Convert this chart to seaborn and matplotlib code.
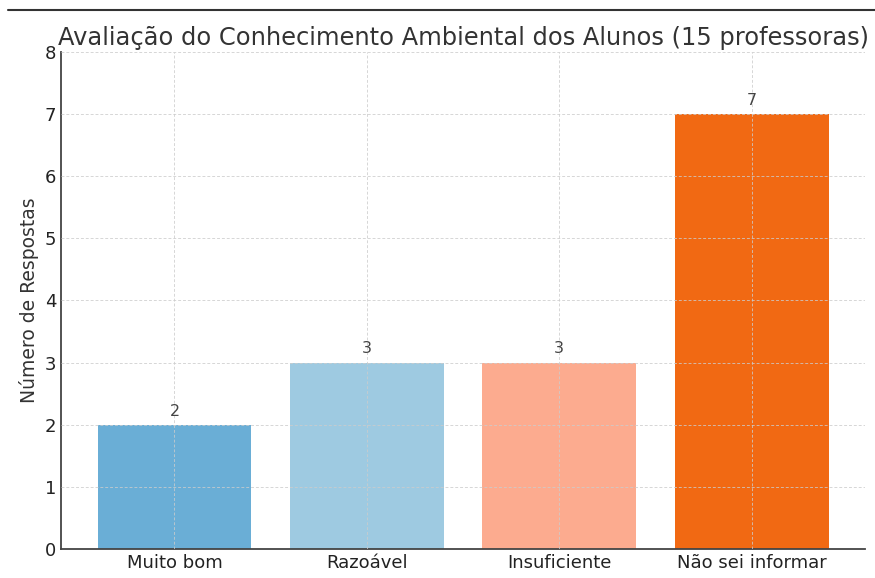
import matplotlib
matplotlib.use("Agg")
import matplotlib.pyplot as plt
from matplotlib.lines import Line2D
import seaborn as sns
import pandas as pd

categorias = ["Muito bom", "Razoável", "Insuficiente", "Não sei informar"]
respostas = [2, 3, 3, 7]
cores = ["#6aaed6", "#9ecae1", "#fcab8f", "#f16913"]

sns.set_style("white")
plt.rcParams['font.family'] = ['DejaVu Sans']

df = pd.DataFrame({'categoria': categorias, 'respostas': respostas})

fig = plt.figure(figsize=(8.75, 5.78), dpi=100)
ax = fig.add_axes([0.0697, 0.0502, 0.919, 0.860])

sns.barplot(data=df, x='categoria', y='respostas', hue='categoria',
            palette=cores, width=0.8, saturation=1, legend=False,
            linewidth=0, ax=ax)

for i, v in enumerate(respostas):
    ax.text(i, v + 0.1, str(v), ha='center', va='bottom',
            fontsize=11.5, color='#444444')

ax.set_xlim(-0.59, 3.59)
ax.set_ylim(0, 8)
ax.set_title("Avaliação do Conhecimento Ambiental dos Alunos (15 professoras)",
             fontsize=17.4, color='#333333', pad=5)
ax.set_xlabel("")
ax.set_ylabel("Número de Respostas", fontsize=13.5, color='#333333')
ax.tick_params(direction='in', labelsize=13, colors='#222222', length=4)
ax.set_axisbelow(False)
ax.grid(True, linestyle=(0, (3, 2)), linewidth=0.7, color='#cccccc', alpha=0.8)
sns.despine(ax=ax)
for s in ['left', 'bottom']:
    ax.spines[s].set_color('#444444')
    ax.spines[s].set_linewidth(1.3)

# thin rule along the top of the image
fig.add_artist(Line2D([0.009, 1.0], [0.983, 0.983], color='#333333',
                      linewidth=1.5))

fig.savefig("out.png", dpi=100)
